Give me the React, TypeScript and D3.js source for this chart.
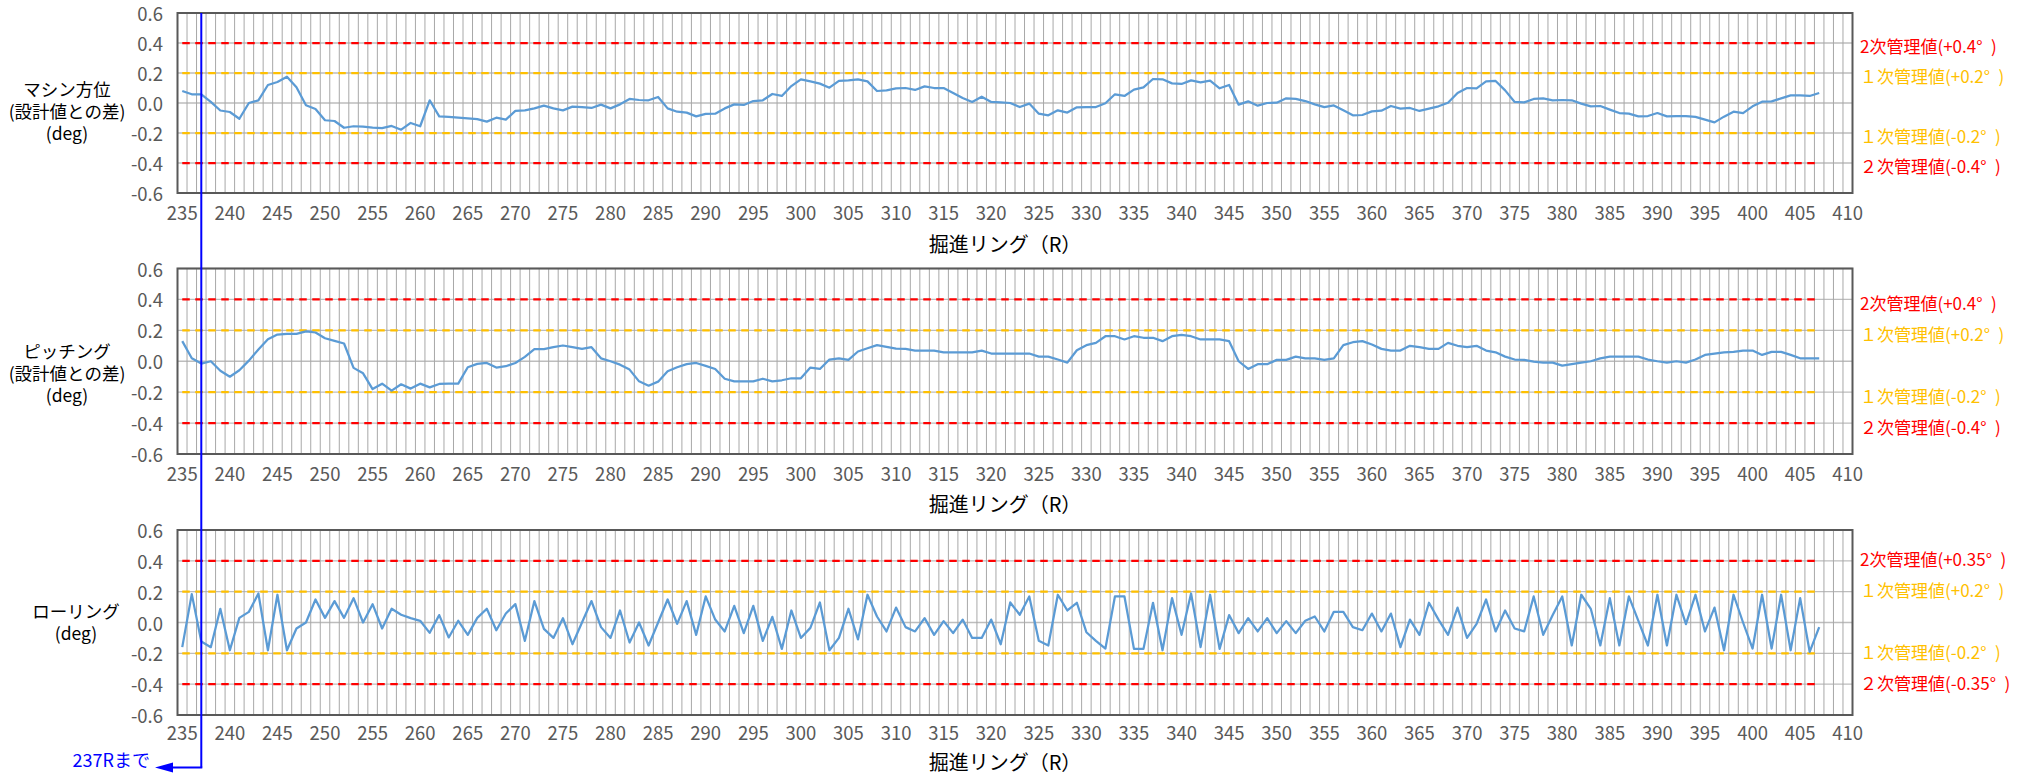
import React from 'react';
import * as d3 from 'd3';

const RING_FIRST = 235;
const RING_LAST = 410;
const DATA_FIRST_RING = 235;
const X_TICKS = [235, 240, 245, 250, 255, 260, 265, 270, 275, 280, 285, 290, 295, 300, 305, 310, 315, 320, 325, 330, 335, 340, 345, 350, 355, 360, 365, 370, 375, 380, 385, 390, 395, 400, 405, 410];
const Y_TICKS = [0.6, 0.4, 0.2, 0, -0.2, -0.4, -0.6];
const Y_TICK_LABELS = ['0.6', '0.4', '0.2', '0.0', '-0.2', '-0.4', '-0.6'];

// マシン方位 (235R..407R)
const machineDirection = [
  0.08, 0.058, 0.058, 0.007, -0.05, -0.06, -0.105, 0.0, 0.018, 0.12,
  0.14, 0.175, 0.105, -0.015, -0.04, -0.115, -0.12, -0.165, -0.155, -0.158,
  -0.164, -0.167, -0.153, -0.178, -0.133, -0.155, 0.018, -0.089, -0.093, -0.098,
  -0.102, -0.107, -0.124, -0.098, -0.111, -0.053, -0.049, -0.036, -0.018, -0.036,
  -0.049, -0.024, -0.027, -0.033, -0.011, -0.036, -0.009, 0.027, 0.02, 0.018,
  0.04, -0.036, -0.058, -0.064, -0.089, -0.073, -0.071, -0.036, -0.009, -0.013,
  0.013, 0.018, 0.06, 0.047, 0.113, 0.158, 0.144, 0.129, 0.102, 0.147,
  0.151, 0.158, 0.144, 0.08, 0.084, 0.098, 0.1, 0.087, 0.111, 0.1,
  0.1, 0.067, 0.033, 0.007, 0.042, 0.007, 0.004, 0.0, -0.027, -0.004,
  -0.071, -0.082, -0.049, -0.064, -0.029, -0.027, -0.027, -0.002, 0.058, 0.047,
  0.089, 0.104, 0.16, 0.158, 0.131, 0.127, 0.151, 0.138, 0.149, 0.098,
  0.12, -0.011, 0.011, -0.018, 0.0, 0.002, 0.031, 0.027, 0.013, -0.009,
  -0.027, -0.016, -0.049, -0.082, -0.08, -0.056, -0.051, -0.02, -0.038, -0.033,
  -0.053, -0.038, -0.022, 0.002, 0.067, 0.1, 0.098, 0.144, 0.147, 0.084,
  0.007, 0.004, 0.027, 0.031, 0.018, 0.02, 0.018, -0.004, -0.022, -0.02,
  -0.044, -0.067, -0.071, -0.089, -0.087, -0.067, -0.089, -0.087, -0.087, -0.093,
  -0.111, -0.129, -0.091, -0.058, -0.067, -0.022, 0.009, 0.011, 0.031, 0.051,
  0.051, 0.047, 0.067,
];

// ピッチング (235R..407R)
const pitching = [
  0.13, 0.019, -0.015, 0.0, -0.061, -0.1, -0.058, 0.004, 0.076, 0.143,
  0.173, 0.177, 0.177, 0.193, 0.186, 0.149, 0.132, 0.115, -0.043, -0.078,
  -0.18, -0.145, -0.19, -0.149, -0.177, -0.145, -0.169, -0.147, -0.145, -0.145,
  -0.039, -0.017, -0.011, -0.041, -0.032, -0.011, 0.028, 0.078, 0.078, 0.091,
  0.102, 0.091, 0.08, 0.091, 0.019, 0.0, -0.022, -0.054, -0.13, -0.158,
  -0.132, -0.065, -0.039, -0.019, -0.011, -0.03, -0.05, -0.113, -0.13, -0.13,
  -0.13, -0.113, -0.13, -0.123, -0.11, -0.11, -0.041, -0.05, 0.011, 0.019,
  0.009, 0.063, 0.084, 0.104, 0.093, 0.082, 0.08, 0.069, 0.069, 0.069,
  0.058, 0.058, 0.058, 0.058, 0.069, 0.05, 0.05, 0.05, 0.05, 0.05,
  0.03, 0.03, 0.011, -0.009, 0.071, 0.104, 0.119, 0.162, 0.162, 0.141,
  0.162, 0.152, 0.152, 0.13, 0.162, 0.171, 0.162, 0.141, 0.141, 0.141,
  0.13, 0.0, -0.05, -0.019, -0.019, 0.009, 0.009, 0.03, 0.019, 0.019,
  0.009, 0.019, 0.104, 0.123, 0.13, 0.108, 0.08, 0.069, 0.069, 0.1,
  0.091, 0.08, 0.08, 0.119, 0.1, 0.091, 0.1, 0.069, 0.058, 0.03,
  0.011, 0.009, -0.002, -0.009, -0.009, -0.028, -0.019, -0.009, 0.0, 0.019,
  0.03, 0.03, 0.03, 0.03, 0.011, 0.0, -0.009, 0.0, -0.009, 0.011,
  0.041, 0.05, 0.058, 0.061, 0.069, 0.069, 0.041, 0.061, 0.061, 0.041,
  0.019, 0.019, 0.019,
];

// ローリング (235R..407R)
const rolling = [
  -0.16, 0.184, -0.123, -0.16, 0.089, -0.18, 0.03, 0.069, 0.188, -0.18,
  0.18, -0.18, -0.039, 0.0, 0.149, 0.03, 0.139, 0.03, 0.158, 0.0,
  0.119, -0.039, 0.089, 0.05, 0.028, 0.011, -0.067, 0.048, -0.097, 0.011,
  -0.08, 0.03, 0.089, -0.05, 0.058, 0.119, -0.119, 0.139, -0.041, -0.1,
  0.028, -0.141, 0.0, 0.139, -0.03, -0.1, 0.078, -0.13, 0.0, -0.149,
  0.0, 0.149, -0.009, 0.139, -0.08, 0.169, 0.019, -0.058, 0.108, -0.069,
  0.108, -0.119, 0.037, -0.171, 0.078, -0.1, -0.035, 0.13, -0.18, -0.1,
  0.089, -0.11, 0.18, 0.039, -0.058, 0.097, -0.03, -0.058, 0.028, -0.08,
  0.009, -0.069, 0.019, -0.1, -0.1, 0.019, -0.141, 0.13, 0.05, 0.169,
  -0.119, -0.149, 0.18, 0.078, 0.128, -0.063, -0.119, -0.169, 0.169, 0.169,
  -0.171, -0.171, 0.128, -0.18, 0.158, -0.08, 0.188, -0.16, 0.18, -0.171,
  0.048, -0.069, 0.028, -0.058, 0.028, -0.069, 0.009, -0.069, 0.011, 0.039,
  -0.058, 0.069, 0.069, -0.03, -0.05, 0.058, -0.058, 0.058, -0.16, 0.019,
  -0.08, 0.128, 0.019, -0.08, 0.097, -0.1, -0.009, 0.149, -0.058, 0.078,
  -0.039, -0.058, 0.169, -0.08, 0.048, 0.169, -0.149, 0.18, 0.089, -0.149,
  0.158, -0.149, 0.169, 0.011, -0.149, 0.18, -0.149, 0.18, -0.011, 0.18,
  -0.058, 0.097, -0.18, 0.18, 0.0, -0.169, 0.18, -0.169, 0.18, -0.18,
  0.158, -0.19, -0.03,
];

const LIMIT_VALUES = [0.4, 0.2, -0.2, -0.4];
const LIMIT_COLORS = ['#FF0000', '#FFC000', '#FFC000', '#FF0000'];
const LIMIT_LABELS_MP = ['2次管理値(+0.4°\u2002)', '１次管理値(+0.2°\u2002)', '１次管理値(-0.2°\u2002)', '２次管理値(-0.4°\u2002)'];
const LIMIT_LABELS_ROLL = ['2次管理値(+0.35°\u2002)', '１次管理値(+0.2°\u2002)', '１次管理値(-0.2°\u2002)', '２次管理値(-0.35°\u2002)'];
const X_TITLE = '掘進リング（R）';
const ANNOTATION_RING = 237;
const ANNOTATION_TEXT = '237Rまで';

const FONT = "'Noto Sans CJK JP', 'Noto Sans', sans-serif";

export default function App() {
  const W = 2029;
  const H = 774;
  const PLOT_L = 177.5;
  const PLOT_R = 1852.5;
  const cats = d3.range(RING_FIRST, RING_LAST + 1);
  const x = d3.scaleBand<number>().domain(cats).range([PLOT_L, PLOT_R]).padding(0);
  const bw = x.bandwidth();
  const cx = (r: number) => (x(r) as number) + bw / 2;

  const panels = [
    {
      key: 'p1', top: 13, bottom: 193, data: machineDirection,
      title: ['マシン方位', '(設計値との差)', '(deg)'], titleX: 67, titleY: [88, 110, 132],
      limitLabels: LIMIT_LABELS_MP, labelDy: 2.5, tickY: 212, xTitleY: 243,
    },
    {
      key: 'p2', top: 268.5, bottom: 454, data: pitching,
      title: ['ピッチング', '(設計値との差)', '(deg)'], titleX: 67, titleY: [350, 372, 394],
      limitLabels: LIMIT_LABELS_MP, labelDy: 3, tickY: 473, xTitleY: 503,
    },
    {
      key: 'p3', top: 530, bottom: 715, data: rolling,
      title: ['ローリング', '(deg)'], titleX: 76, titleY: [610, 632],
      limitLabels: LIMIT_LABELS_ROLL, labelDy: -2, tickY: 732, xTitleY: 761,
    },
  ];

  const lastRing = DATA_FIRST_RING + machineDirection.length - 1;
  const boundaries = cats.map((c) => x(c) as number).concat([PLOT_R]);
  const ax = cx(ANNOTATION_RING);

  return (
    <svg width={W} height={H} style={{ position: 'absolute', left: 0, top: 0, background: '#fff' }} fontFamily={FONT}>
      <rect x={0} y={0} width={W} height={H} fill="#fff" />
      {panels.map((p) => {
        const y = d3.scaleLinear().domain([-0.6, 0.6]).range([p.bottom, p.top]);
        const line = d3.line<number>().x((_, i) => cx(DATA_FIRST_RING + i)).y((d) => y(d));
        const limitLine = (v: number) =>
          d3.line<number>().x((r) => cx(r)).y(() => y(v))([DATA_FIRST_RING, lastRing]) as string;
        return (
          <g key={p.key}>
            {Y_TICKS.map((t) => (
              <line key={'h' + t} x1={PLOT_L} x2={PLOT_R} y1={y(t)} y2={y(t)} stroke="#BDBDBD" strokeWidth={1.3} />
            ))}
            {boundaries.map((bx, i) => (
              <line key={'v' + i} x1={bx} x2={bx} y1={p.top} y2={p.bottom} stroke="#A8A8A8" strokeWidth={1} />
            ))}
            {LIMIT_VALUES.map((v, i) => (
              <path key={'l' + i} d={limitLine(v)} fill="none" stroke={LIMIT_COLORS[i]} strokeWidth={2.25} strokeDasharray="7.5,5.5" />
            ))}
            <path d={line(p.data) as string} fill="none" stroke="#5B9BD5" strokeWidth={2.25} strokeLinejoin="round" />
            <rect x={PLOT_L} y={p.top} width={PLOT_R - PLOT_L} height={p.bottom - p.top} fill="none" stroke="#595959" strokeWidth={2} />
            {Y_TICKS.map((t, i) => (
              <text key={'yt' + t} x={163} y={y(t)} textAnchor="end" dominantBaseline="central" fontSize={18.5} fill="#595959">
                {Y_TICK_LABELS[i]}
              </text>
            ))}
            {X_TICKS.map((t) => (
              <text key={'xt' + t} x={cx(t)} y={p.tickY} textAnchor="middle" dominantBaseline="central" fontSize={18.5} fill="#595959">
                {t}
              </text>
            ))}
            <text x={1005} y={p.xTitleY} textAnchor="middle" dominantBaseline="central" fontSize={20} fill="#000">
              {X_TITLE}
            </text>
            {p.title.map((s, i) => (
              <text key={'tt' + i} x={p.titleX} y={p.titleY[i]} textAnchor="middle" dominantBaseline="central" fontSize={17.5} fill="#000">
                {s}
              </text>
            ))}
            {LIMIT_VALUES.map((v, i) => (
              <text key={'ll' + i} x={1860} y={y(v) + p.labelDy} dominantBaseline="central" fontSize={17} fill={LIMIT_COLORS[i]} style={{ whiteSpace: 'pre' }}>
                {p.limitLabels[i]}
              </text>
            ))}
          </g>
        );
      })}
      <g>
        <line x1={ax} x2={ax} y1={13} y2={767.5} stroke="#0000FF" strokeWidth={2} />
        <line x1={ax + 1} x2={170} y1={767.5} y2={767.5} stroke="#0000FF" strokeWidth={2} />
        <path d={`M155,767.5 L173,762.5 L173,772.5 Z`} fill="#0000FF" />
        <text x={150} y={759} textAnchor="end" dominantBaseline="central" fontSize={18} fill="#0000FF">
          {ANNOTATION_TEXT}
        </text>
      </g>
    </svg>
  );
}
